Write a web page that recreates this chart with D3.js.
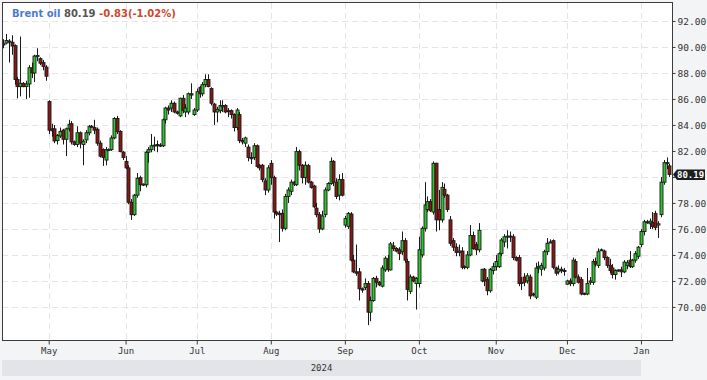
<!DOCTYPE html>
<html><head><meta charset="utf-8">
<script src="https://cdn.jsdelivr.net/npm/d3@7/dist/d3.min.js"></script>
<style>html,body{margin:0;padding:0;background:#f3f4f6;}svg{display:block}</style>
</head><body>
<svg id="chart" width="707" height="380"></svg>
<script>
// ---------- DATA ----------
const instrument = "Brent oil";
const sessionStart = "2024-04-12";
const sessionEnd = "2025-01-14";
const closedDays = ["2024-07-04", "2024-12-25", "2025-01-01"]; // sessions run Sun-Fri
// [open, high, low, close] per session, month by month
const apr = [[90.25,90.6,89.9,90.15],[90.3,91.0,90.2,90.5],[90.45,90.6,88.8,90.4],[90.36,90.9,89.4,90.07],[90.1,90.2,87.1,87.5],[87.5,87.7,86.05,86.95],[86.95,90.8,86.2,87.2],[87.2,87.3,86.9,86.95],[86.95,87.4,86.0,87.15],[87.15,88.6,86.1,88.4],[88.4,88.8,87.6,88.0],[88.0,89.4,87.3,89.3],[89.25,89.9,88.9,89.35],[89.1,89.2,88.6,88.75],[88.8,89.0,88.2,88.5],[88.45,88.6,87.4,87.75]];
const may = [[85.8,85.9,83.3,83.6],[83.7,84.1,83.1,83.55],[83.7,84.0,82.6,82.77],[82.8,83.3,82.5,83.2],[83.15,83.8,83.0,83.5],[83.6,83.7,82.5,82.9],[82.9,83.8,81.6,83.7],[83.7,84.4,83.5,84.05],[84.1,84.3,82.5,82.7],[82.7,82.8,82.4,82.5],[82.5,83.9,82.3,83.4],[83.4,83.5,82.2,82.6],[82.5,82.9,80.9,82.75],[82.85,83.6,82.6,83.4],[83.4,84.0,83.2,83.9],[83.9,84.0,83.8,83.85],[83.8,84.4,83.3,83.6],[83.67,83.8,82.4,82.6],[82.6,82.8,81.5,81.6],[82.1,82.2,80.85,81.5],[81.3,82.3,80.9,82.1],[82.05,82.2,82.0,82.1],[82.1,83.2,82.0,83.0],[83.0,84.6,82.9,84.5],[84.5,84.7,83.3,83.5],[83.5,83.6,81.9,81.95],[81.9,82.0,81.3,81.5]];
const jun = [[81.2,81.6,80.6,80.7],[80.7,80.9,77.9,78.05],[78.05,78.3,76.7,77.1],[77.1,78.7,77.0,78.6],[78.6,80.3,78.4,79.9],[79.95,80.1,78.9,79.4],[79.4,79.5,79.3,79.45],[79.4,82.0,79.2,81.9],[81.9,82.3,81.1,82.1],[82.1,83.3,81.9,82.4],[82.4,83.1,82.0,82.45],[82.5,82.8,81.9,82.4],[82.45,82.6,82.3,82.4],[82.4,84.5,82.3,84.4],[84.4,85.4,84.1,85.3],[85.3,85.5,84.8,85.15],[85.3,85.9,85.0,85.67],[85.67,85.8,84.9,85.0],[85.0,85.1,84.8,84.9],[84.7,86.1,84.6,86.05],[86.05,86.3,84.9,85.1],[85.0,85.6,84.6,85.3],[85.0,86.5,84.8,86.4],[86.4,87.2,86.0,86.3],[84.8,85.3,84.7,85.15]];
const jul = [[85.15,86.8,85.0,86.56],[86.9,87.0,86.1,86.4],[86.4,87.3,86.2,87.1],[87.1,87.9,86.9,87.5],[87.5,87.9,86.9,86.95],[86.8,86.9,85.5,85.67],[85.6,85.7,84.0,85.0],[85.0,85.4,84.2,85.2],[85.1,85.9,84.9,85.5],[85.4,85.9,85.0,85.5],[85.5,85.6,84.9,85.0],[85.05,85.3,84.6,85.1],[85.1,85.2,84.5,84.8],[84.8,84.9,83.5,83.8],[83.8,85.3,83.6,85.15],[84.8,85.0,82.6,82.8],[82.8,83.0,82.5,82.7],[82.6,83.1,82.3,83.0],[82.3,82.5,81.2,81.5],[81.5,81.9,81.0,81.4],[81.5,82.6,81.3,82.4],[82.4,82.5,80.7,80.8],[80.9,81.0,80.5,80.7],[80.9,81.0,79.6,79.8],[79.7,79.9,78.6,79.0],[79.0,80.9,78.8,80.7]];
const aug = [[81.05,81.3,79.4,79.95],[79.95,80.1,76.8,77.3],[77.3,77.4,77.0,77.15],[77.2,77.4,75.0,77.1],[77.2,77.5,75.8,76.05],[76.05,78.7,75.9,78.5],[78.5,79.2,78.0,79.0],[78.9,79.8,78.6,79.6],[79.6,79.7,79.3,79.45],[79.4,82.3,79.3,81.95],[81.95,82.1,80.5,80.9],[80.9,81.0,79.5,79.95],[79.95,81.2,79.4,80.9],[80.87,81.0,79.5,79.6],[79.6,79.7,79.1,79.2],[79.3,79.4,77.6,77.7],[77.6,78.0,76.9,77.1],[77.1,77.3,75.7,76.0],[76.0,77.4,75.9,77.0],[77.1,79.2,76.9,79.0],[79.0,79.6,78.9,79.5],[79.5,81.5,79.4,81.2],[81.2,81.3,79.3,79.6],[79.6,79.9,78.3,78.5],[78.6,80.2,78.2,79.8],[79.8,80.3,78.5,78.6]];
const sep = [[76.3,77.0,76.1,76.8],[76.2,77.3,76.0,77.2],[77.15,77.3,73.5,73.6],[73.6,74.0,72.6,72.7],[72.7,74.8,72.4,72.6],[72.7,73.0,70.5,71.4],[71.4,71.5,71.1,71.3],[71.5,72.2,71.3,71.8],[71.8,72.0,68.6,69.6],[69.6,70.8,68.9,70.5],[70.5,72.3,70.4,72.2],[72.2,72.4,71.5,71.9],[71.9,72.0,71.6,71.7],[71.6,73.2,71.5,73.0],[72.85,73.9,72.7,73.75],[73.7,74.0,72.7,72.9],[72.85,75.0,72.8,74.85],[74.7,75.0,74.3,74.5],[74.5,74.6,74.2,74.3],[74.4,74.6,73.6,74.1],[74.25,75.8,74.0,75.1],[75.1,75.3,73.4,73.6],[73.5,73.7,70.5,71.35],[71.2,72.5,71.0,72.3],[72.3,72.4,71.9,72.0],[71.8,72.3,69.8,72.2]];
const oct = [[71.8,75.4,71.5,74.4],[74.0,76.2,73.8,76.05],[76.05,79.6,75.8,77.85],[77.5,78.5,77.3,78.1],[78.1,78.3,77.3,77.4],[77.3,81.2,77.1,81.05],[81.05,81.1,75.8,76.7],[77.5,79.0,75.9,76.7],[76.7,79.6,76.5,79.2],[79.05,79.5,78.4,78.6],[78.6,78.7,77.3,77.5],[76.7,77.0,74.7,74.9],[75.1,75.3,74.3,74.6],[74.6,74.9,73.9,74.2],[74.2,74.8,73.9,74.3],[74.3,74.6,72.9,73.05],[73.05,73.2,72.9,73.1],[73.05,74.3,72.9,74.0],[74.0,76.3,73.9,75.5],[75.5,75.8,74.4,74.5],[74.8,75.0,74.0,74.4],[74.4,76.45,74.2,75.9],[72.0,72.9,71.9,72.9],[72.9,73.0,71.6,72.0],[72.1,72.3,70.9,71.25],[71.25,73.0,71.1,72.9],[72.8,73.4,72.5,73.1]];
const nov = [[73.1,74.0,72.8,73.5],[73.1,74.2,73.0,74.1],[74.1,75.3,73.9,75.15],[75.0,75.6,74.6,75.4],[75.4,75.9,74.5,75.45],[75.45,75.8,75.0,75.4],[75.4,75.6,73.6,73.8],[73.8,73.9,73.5,73.6],[73.8,74.0,71.6,71.8],[71.8,72.3,71.3,71.9],[72.3,72.6,71.6,71.9],[72.0,72.6,71.8,72.4],[72.3,72.5,70.6,70.85],[71.0,71.1,70.8,70.95],[70.75,73.4,70.6,73.0],[73.0,73.5,72.6,73.1],[72.9,73.4,72.4,73.2],[73.0,74.4,72.8,74.25],[74.25,75.3,74.0,74.9],[75.0,75.2,74.9,75.0],[75.1,75.2,72.9,73.05],[73.0,73.1,72.4,72.6],[72.7,73.2,72.5,72.9],[72.9,73.1,72.6,72.8],[72.8,73.0,72.4,72.75]];
const dec = [[71.75,72.1,71.7,72.0],[72.0,72.2,71.6,71.8],[71.8,73.8,71.6,73.6],[73.5,73.7,72.2,72.3],[72.3,72.5,71.8,71.9],[72.1,72.3,70.9,71.0],[71.05,71.1,70.9,71.0],[71.0,73.0,70.9,71.8],[71.9,72.3,71.7,72.0],[71.9,73.7,71.7,73.5],[73.5,73.8,73.1,73.3],[73.2,74.5,73.0,74.25],[74.4,74.5,74.3,74.4],[74.3,74.4,73.6,73.8],[73.8,73.9,73.0,73.2],[73.2,73.7,72.6,72.8],[73.0,73.3,72.2,72.5],[72.5,72.9,72.1,72.8],[72.8,72.9,72.7,72.85],[72.85,73.1,72.3,72.7],[72.7,73.6,72.6,73.45],[73.2,73.6,72.9,73.4],[73.6,74.3,73.0,73.1],[73.1,73.7,73.0,73.6],[73.6,74.3,73.4,74.1],[73.9,74.7,73.7,74.6]];
const jan = [[74.8,76.0,74.6,75.8],[75.8,76.7,75.5,76.55],[76.55,76.7,76.4,76.5],[76.4,76.8,76.0,76.6],[76.5,77.3,76.0,76.2],[77.2,77.4,75.9,76.1],[76.3,76.6,75.3,76.4],[77.1,80.0,76.9,79.6],[79.6,81.3,79.4,81.1],[81.1,81.5,80.6,81.02],[80.85,81.0,80.0,80.19]];
const yTickValues = [70, 72, 74, 76, 78, 80, 82, 84, 86, 88, 90, 92];
const monthLabels = ["May", "Jun", "Jul", "Aug", "Sep", "Oct", "Nov", "Dec", "Jan"];
const yearLabel = "2024";

// ---------- BUILD ----------
const dates = [];
{
  const end = new Date(sessionEnd + "T00:00:00Z");
  for (let d = new Date(sessionStart + "T00:00:00Z"); d <= end; d = new Date(d.getTime() + 864e5)) {
    const iso = d.toISOString().slice(0, 10);
    if (d.getUTCDay() === 6 || closedDays.includes(iso)) continue;
    dates.push(d);
  }
}
const rows = [].concat(apr, may, jun, jul, aug, sep, oct, nov, dec, jan);
const data = rows.map((r, i) => ({ i, date: dates[i], o: r[0], h: r[1], l: r[2], c: r[3] }));

const W = 707, H = 380;
const L = 2, R = 672, T = 3, B = 341;
const svg = d3.select("#chart");
const x = d3.scaleLinear().domain([-0.4, data.length - 0.1]).range([L, R]);
const y = d3.scaleLinear().domain([67.42, 93.42]).range([B - 0.5, T - 0.5]);

svg.append("rect").attr("width", W).attr("height", H).attr("fill", "#f3f4f6");
svg.append("rect").attr("x", L).attr("y", T).attr("width", R - L).attr("height", B - T).attr("fill", "#fff");

// month starts
const monthIdx = [];
const monthNames = ["Jan","Feb","Mar","Apr","May","Jun","Jul","Aug","Sep","Oct","Nov","Dec"];
data.forEach((d, k) => {
  if (k > 0 && d.date.getUTCMonth() !== data[k - 1].date.getUTCMonth()) monthIdx.push(k);
});
const tickIdx = monthLabels.map(m => monthIdx.find(k => monthNames[data[k].date.getUTCMonth()] === m));

// grid
const grid = svg.append("g").attr("stroke", "#e4e4e4").attr("stroke-dasharray", "6,4").attr("stroke-width", 1);
grid.selectAll("line.h").data(yTickValues).join("line").attr("class", "h")
  .attr("x1", L).attr("x2", R).attr("y1", d => Math.round(y(d)) + 0.5).attr("y2", d => Math.round(y(d)) + 0.5);
grid.selectAll("line.v").data(tickIdx).join("line").attr("class", "v")
  .attr("y1", T).attr("y2", B).attr("x1", d => Math.round(x(d)) + 0.5).attr("x2", d => Math.round(x(d)) + 0.5);

// title
const title = svg.append("text").attr("x", 12).attr("y", 17)
  .attr("font-family", "DejaVu Sans, Verdana, sans-serif").attr("font-size", 10).attr("font-weight", "bold");
const last = data[data.length - 1].c, prev = data[data.length - 2].c;
const chg = last - prev, pct = chg / prev * 100;
title.append("tspan").attr("fill", "#4a7bd1").text(instrument + " ");
title.append("tspan").attr("fill", "#555").text(last.toFixed(2) + " ");
title.append("tspan").attr("fill", "#d0472c").text((chg >= 0 ? "+" : "") + chg.toFixed(2) + "(" + (pct >= 0 ? "+" : "") + pct.toFixed(2) + "%)");

// candles
svg.append("clipPath").attr("id", "clip").append("rect").attr("x", L).attr("y", T).attr("width", R - L).attr("height", B - T);
const cg = svg.append("g").attr("clip-path", "url(#clip)");
const cand = cg.selectAll("g.c").data(data).join("g").attr("class", "c");
cand.append("line")
  .attr("x1", d => Math.round(x(d.i)) + 0.5).attr("x2", d => Math.round(x(d.i)) + 0.5)
  .attr("y1", d => y(d.h)).attr("y2", d => y(d.l))
  .attr("stroke", "#1a1a1a").attr("stroke-width", 1);
cand.append("rect")
  .attr("x", d => Math.round(x(d.i)) - 1)
  .attr("width", 3)
  .attr("y", d => y(Math.max(d.o, d.c)))
  .attr("height", d => Math.max(1, Math.abs(y(d.o) - y(d.c))))
  .attr("fill", d => d.c >= d.o ? "#2fc52f" : "#8c1616")
  .attr("stroke", "#1a1a1a").attr("stroke-width", 0.9);

// border
svg.append("rect").attr("x", L + 0.5).attr("y", T - 0.5).attr("width", R - L).attr("height", B - T)
  .attr("fill", "none").attr("stroke", "#3c3c3c").attr("stroke-width", 1);

// right axis
const font = "DejaVu Sans Mono, monospace";
const last_y = y(last);
const ya = svg.append("g").attr("transform", `translate(${R + 0.5},0)`)
  .call(d3.axisRight(y).tickValues(yTickValues).tickSize(3).tickPadding(2).tickFormat(d3.format(".2f")));
ya.select(".domain").remove();
ya.selectAll("line").attr("stroke", "#3c3c3c");
ya.selectAll("text").attr("font-family", font).attr("font-size", 9.5).attr("fill", "#333");
// the last-price marker covers the tick label it sits on
ya.selectAll(".tick").filter(d => Math.abs(y(d) - last_y) < 9).select("text").remove();

// bottom axis
const xa = svg.append("g").attr("transform", `translate(0,${B - 0.5})`)
  .call(d3.axisBottom(x).tickValues(tickIdx).tickSize(4).tickPadding(3).tickFormat((d, k) => monthLabels[k]));
xa.select(".domain").remove();
xa.selectAll("line").attr("stroke", "#3c3c3c");
xa.selectAll("text").attr("font-family", font).attr("font-size", 9).attr("fill", "#333");

// year band
const janX = x(tickIdx[tickIdx.length - 1]);
svg.append("rect").attr("x", L).attr("y", 360).attr("width", janX - L).attr("height", 16).attr("fill", "#e2e4e7");
svg.append("text").attr("x", (L + janX) / 2).attr("y", 368).attr("dy", "0.35em").attr("text-anchor", "middle")
  .attr("font-family", font).attr("font-size", 9).attr("fill", "#333").text(yearLabel);

// last price marker
svg.append("path")
  .attr("d", `M${R + 1},${last_y} L${R + 5},${last_y - 5} L${W - 2},${last_y - 5} L${W - 2},${last_y + 5.5} L${R + 5},${last_y + 5.5} Z`)
  .attr("fill", "#1e1e1e");
svg.append("text").attr("x", R + 5).attr("y", last_y).attr("dy", "0.36em")
  .attr("font-family", font).attr("font-size", 9).attr("font-weight", "bold").attr("fill", "#fff").text(last.toFixed(2));
</script>
</body></html>
